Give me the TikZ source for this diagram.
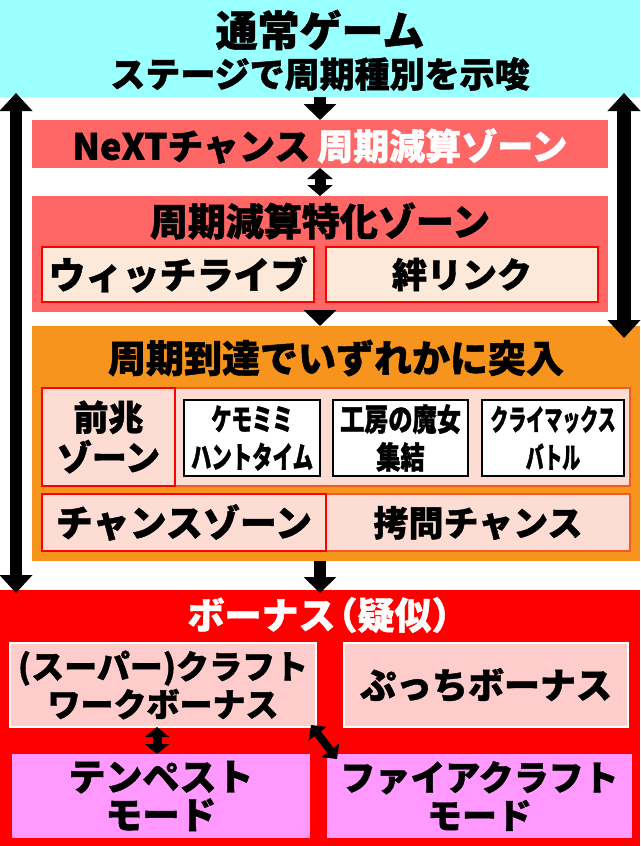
\documentclass[tikz,border=0pt]{standalone}
\usepackage{fontspec}
\setmainfont{Noto Sans CJK JP}[BoldFeatures={FakeBold=1.2}]
\newfontfamily\condfont{Noto Sans CJK JP}[FakeStretch=0.68, BoldFeatures={FakeBold=1.2}]
\newfontfamily\condfontb{Noto Sans CJK JP}[FakeStretch=0.78, BoldFeatures={FakeBold=1.2}]
\newfontfamily\condfontc{Noto Sans CJK JP}[FakeStretch=0.62, BoldFeatures={FakeBold=1.2}]
\usetikzlibrary{arrows.meta}
\definecolor{cyanbg}{HTML}{99FFFF}
\definecolor{salmon}{HTML}{FF6666}
\definecolor{peach}{HTML}{FDE9D9}
\definecolor{orangebg}{HTML}{F7941D}
\definecolor{rowpink}{HTML}{FDDCD4}
\definecolor{rowedge}{HTML}{F15A24}
\definecolor{bonusred}{HTML}{FF0000}
\definecolor{lightpink}{HTML}{FFCCCC}
\definecolor{magentabg}{HTML}{FF99FF}
\newcommand{\myfs}[2]{\fontsize{#1}{#2}\selectfont}
\begin{document}
\begin{tikzpicture}[x=1pt,y=-1pt,
  box/.style={rectangle, inner sep=0pt, outer sep=0pt},
  lbl/.style={inner sep=0pt, align=center},
  fat/.style={line width=12pt, -{Triangle[length=16pt,width=32pt]}},
  fatdbl/.style={line width=11pt, {Triangle[length=11pt,width=25pt]}-{Triangle[length=11pt,width=25pt]}},
  smalldbl/.style={line width=9pt, {Triangle[length=10pt,width=24pt]}-{Triangle[length=10pt,width=24pt]}}
]
\useasboundingbox (0,0) rectangle (640,846);
\fill[white] (0,0) rectangle (640,846);

% top band
\node[box, fill=cyanbg, minimum width=640pt, minimum height=97pt] (cyan) at (320,48.5) {};
\node[lbl, font=\bfseries\myfs{42}{44}] (t1) at (320,30) {通常ゲーム};
\node[lbl, font=\bfseries\myfs{35}{37}] (t2) at (320,74) {ステージで周期種別を示唆};

% NeXT
\node[box, fill=salmon, minimum width=576pt, minimum height=48pt] (next) at (320,144) {};
\node[lbl, font=\bfseries\myfs{36}{38}] (nextt) at (320,146) {NeXTチャンス\kern7pt{\color{white}周期減算ゾーン}};

% tokka zone
\node[box, fill=salmon, minimum width=576pt, minimum height=116pt] (toku) at (320,254) {};
\node[lbl, font=\bfseries\myfs{38}{40}] (tokut) at (320,221) {周期減算特化ゾーン};
\node[box, fill=peach, draw=red, line width=2pt, minimum width=272pt, minimum height=55pt,
  font=\bfseries\myfs{37}{38}] (witch) at (178,274.5) {ウィッチライブ};
\node[box, fill=peach, draw=red, line width=2pt, minimum width=272pt, minimum height=55pt,
  font=\bfseries\myfs{35}{36}] (kizuna) at (462,274.5) {絆リンク};

% orange
\node[box, fill=orangebg, minimum width=608pt, minimum height=235pt] (orange) at (336,443.5) {};
\node[lbl, font=\bfseries\myfs{38}{40}] (oranget) at (336,358) {周期到達でいずれかに突入};
\node[box, fill=rowpink, draw=rowedge, line width=2pt, minimum width=588pt, minimum height=98pt] (row1) at (336,437) {};
\node[box, fill=rowpink, draw=red, line width=2pt, minimum width=133pt, minimum height=98pt,
  align=center, font=\bfseries\myfs{35}{40}] (zencho) at (108.5,437) {前兆\\ゾーン};
\node[box, fill=white, draw=black, line width=2.5pt, minimum width=136pt, minimum height=76pt,
  align=center, font=\condfont\bfseries\myfs{30}{38}] (kemo) at (252,438) {ケモミミ\\ハントタイム};
\node[box, fill=white, draw=black, line width=2.5pt, minimum width=135pt, minimum height=76pt,
  align=center, font=\condfontb\bfseries\myfs{31}{38}] (kobo) at (400.5,438) {工房の魔女\\集結};
\node[box, fill=white, draw=black, line width=2.5pt, minimum width=142pt, minimum height=76pt,
  align=center, font=\condfontc\bfseries\myfs{29}{38}] (climax) at (553,438) {クライマックス\\バトル};
\node[box, fill=rowpink, draw=rowedge, line width=2pt, minimum width=588pt, minimum height=57pt] (row2) at (336,522.5) {};
\node[box, fill=rowpink, draw=red, line width=2pt, minimum width=284pt, minimum height=57pt,
  font=\bfseries\myfs{37}{38}] (chance) at (184,522.5) {チャンスゾーン};
\node[lbl, font=\bfseries\myfs{35}{37}] (gomon) at (478,523) {拷問チャンス};

% bonus
\node[box, fill=bonusred, minimum width=640pt, minimum height=256pt] (bonus) at (320,718) {};
\node[lbl, font=\bfseries\myfs{37}{39}, text=white] (bonust) at (328,615) {ボーナス\kern-15pt（疑似）};
\node[box, fill=lightpink, draw=white, line width=2pt, minimum width=306pt, minimum height=84pt,
  align=center, font=\bfseries\myfs{33}{38}] (craft) at (163,685) {(スーパー)クラフト\\ワークボーナス};
\node[box, fill=lightpink, draw=white, line width=2pt, minimum width=284pt, minimum height=84pt,
  font=\bfseries\myfs{36}{37}] (putchi) at (486,685) {ぷっちボーナス};
\node[box, fill=magentabg, minimum width=298pt, minimum height=84pt,
  align=center, font=\bfseries\myfs{37}{38}] (tempest) at (161,796) {テンペスト\\モード};
\node[box, fill=magentabg, minimum width=305pt, minimum height=84pt,
  align=center, font=\bfseries\myfs{35}{38}] (fire) at (479.5,796) {ファイアクラフト\\モード};

% long side arrows
\coordinate (L1) at (16,93);
\coordinate (L2) at (16,593);
\coordinate (R1) at (624,93);
\coordinate (R2) at (624,338);
\draw[line width=12pt, {Triangle[length=18pt,width=32pt]}-{Triangle[length=18pt,width=32pt]}] (L1) -- (L2);
\draw[line width=14pt, {Triangle[length=18pt,width=32pt]}-{Triangle[length=18pt,width=32pt]}] (R1) -- (R2);

% flow arrows
\draw[fat] (cyan.south) -- (next.north);
\draw[fatdbl] (next.south) -- (toku.north);
\draw[fat] (toku.south) -- (toku.south |- orange.north);
\draw[fat] (toku.south |- orange.south) -- ([yshift=-3pt]toku.south |- bonus.north);
\draw[smalldbl] ([xshift=-6pt]craft.south) -- ([xshift=-6pt]craft.south |- tempest.north);
\draw[line width=8pt, {Triangle[length=11pt,width=22pt]}-{Triangle[length=11pt,width=22pt]}]
  ([shift={(-5,-2)}]craft.south east) -- ([shift={(10,5)}]fire.north west);
\end{tikzpicture}
\end{document}
